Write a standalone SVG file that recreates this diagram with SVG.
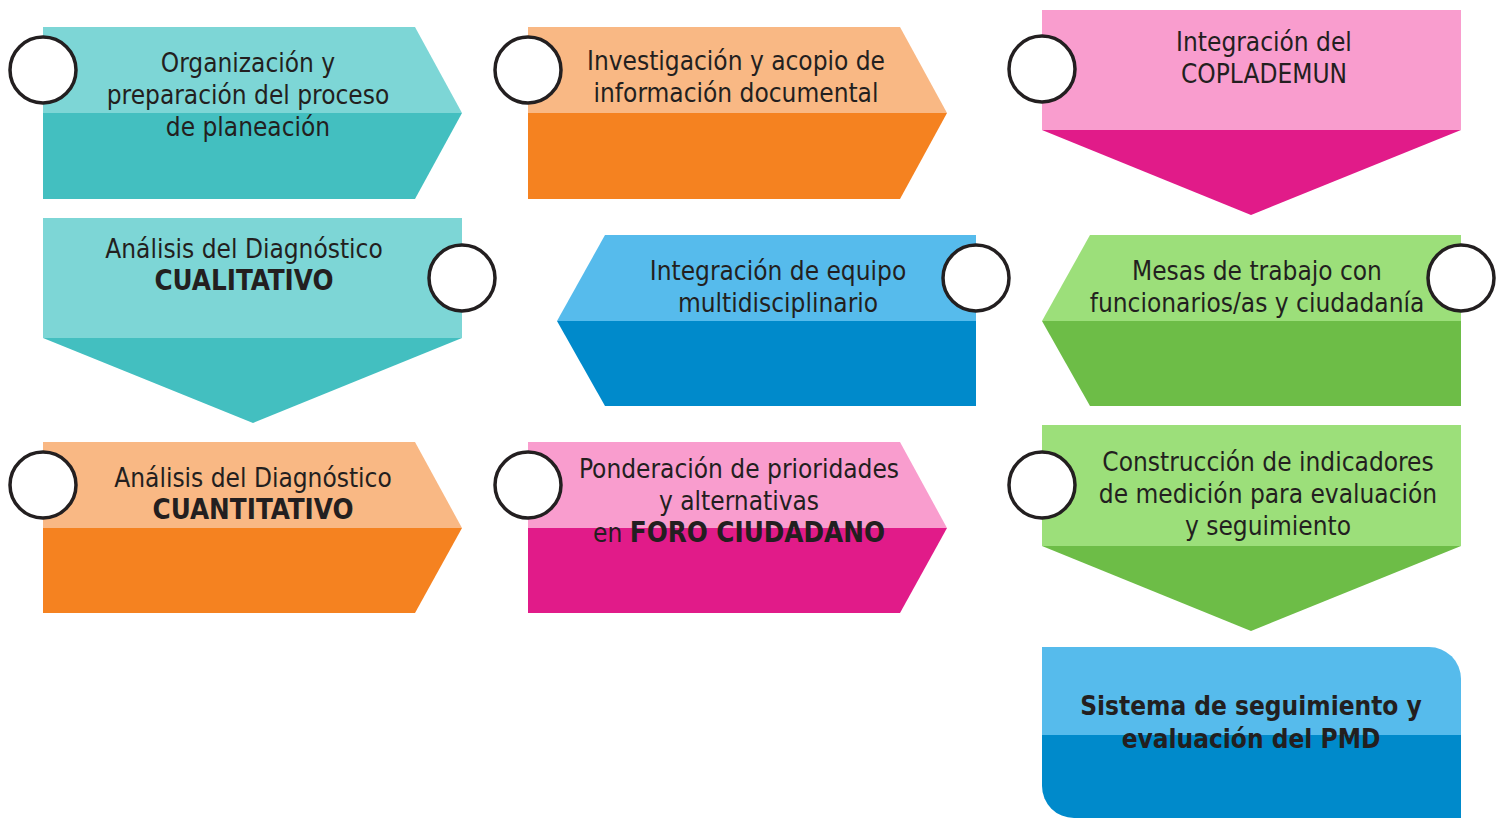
<svg xmlns="http://www.w3.org/2000/svg" width="1503" height="818" viewBox="0 0 1503 818">
<style>
.t{font-family:"DejaVu Sans Condensed","DejaVu Sans",sans-serif;font-size:26px;fill:#231F20;text-anchor:middle}
.b{font-weight:bold}
.k{font-size:27.5px}
.c{fill:#FFFFFF;stroke:#231F20;stroke-width:3.5}
.tl{fill:#7DD6D6}.td{fill:#43BFC0}
.ol{fill:#F9B884}.od{fill:#F58220}
.pl{fill:#F99DCE}.pd{fill:#E11B89}
.bl{fill:#56BBEC}.bd{fill:#008ACB}
.gl{fill:#9CDF7A}.gd{fill:#6DBD47}
</style>
<rect width="1503" height="818" fill="#FFFFFF"/>
<g id="connectors"></g>
<g id="n1">
<polygon class="tl" points="43,27 415,27 462,113 43,113"/>
<polygon class="td" points="43,113 462,113 415,199 43,199"/>
<circle class="c" cx="43" cy="70" r="33"/>
<text class="t" x="248" y="72">Organización y</text>
<text class="t" x="248" y="104">preparación del proceso</text>
<text class="t" x="248" y="136">de planeación</text>
</g>
<g id="n2">
<polygon class="ol" points="528,27 900,27 947,113 528,113"/>
<polygon class="od" points="528,113 947,113 900,199 528,199"/>
<circle class="c" cx="528" cy="70" r="33"/>
<text class="t" x="736" y="70">Investigación y acopio de</text>
<text class="t" x="736" y="102">información documental</text>
</g>
<g id="n3">
<rect class="pl" x="1042" y="10" width="419" height="120"/>
<polygon class="pd" points="1042,130 1461,130 1251,215"/>
<circle class="c" cx="1042" cy="69" r="33"/>
<text class="t" x="1264" y="51">Integración del</text>
<text class="t" x="1264" y="83">COPLADEMUN</text>
</g>
<g id="n4">
<rect class="tl" x="43" y="218" width="419" height="120"/>
<polygon class="td" points="43,338 462,338 253,423"/>
<circle class="c" cx="462" cy="278" r="33"/>
<text class="t" x="244" y="258">Análisis del Diagnóstico</text>
<text class="t b k" x="244" y="290">CUALITATIVO</text>
</g>
<g id="n5">
<polygon class="bl" points="557,321 605,235 976,235 976,321"/>
<polygon class="bd" points="557,321 976,321 976,406 605,406"/>
<circle class="c" cx="976" cy="278" r="33"/>
<text class="t" x="778" y="280">Integración de equipo</text>
<text class="t" x="778" y="312">multidisciplinario</text>
</g>
<g id="n6">
<polygon class="gl" points="1042,321 1090,235 1461,235 1461,321"/>
<polygon class="gd" points="1042,321 1461,321 1461,406 1090,406"/>
<circle class="c" cx="1461" cy="278" r="33"/>
<text class="t" x="1257" y="280">Mesas de trabajo con</text>
<text class="t" x="1257" y="312">funcionarios/as y ciudadanía</text>
</g>
<g id="n7">
<polygon class="ol" points="43,442 415,442 462,528 43,528"/>
<polygon class="od" points="43,528 462,528 415,613 43,613"/>
<circle class="c" cx="43" cy="485" r="33"/>
<text class="t" x="253" y="487">Análisis del Diagnóstico</text>
<text class="t b k" x="253" y="519">CUANTITATIVO</text>
</g>
<g id="n8">
<polygon class="pl" points="528,442 900,442 947,528 528,528"/>
<polygon class="pd" points="528,528 947,528 900,613 528,613"/>
<circle class="c" cx="528" cy="485" r="33"/>
<text class="t" x="739" y="478">Ponderación de prioridades</text>
<text class="t" x="739" y="510">y alternativas</text>
<text class="t" x="739" y="542">en <tspan class="b k">FORO CIUDADANO</tspan></text>
</g>
<g id="n9">
<rect class="gl" x="1042" y="425" width="419" height="121"/>
<polygon class="gd" points="1042,546 1461,546 1251,631"/>
<circle class="c" cx="1042" cy="485" r="33"/>
<text class="t" x="1268" y="471">Construcción de indicadores</text>
<text class="t" x="1268" y="503">de medición para evaluación</text>
<text class="t" x="1268" y="535">y seguimiento</text>
</g>
<g id="n10">
<path class="bl" d="M1042,647 H1429 A32,32 0 0 1 1461,679 V736 H1042 Z"/>
<path class="bd" d="M1042,735 H1461 V818 H1074 A32,32 0 0 1 1042,786 Z"/>
<text class="t b" x="1251" y="715">Sistema de seguimiento y</text>
<text class="t b" x="1251" y="748">evaluación del PMD</text>
</g>
</svg>
